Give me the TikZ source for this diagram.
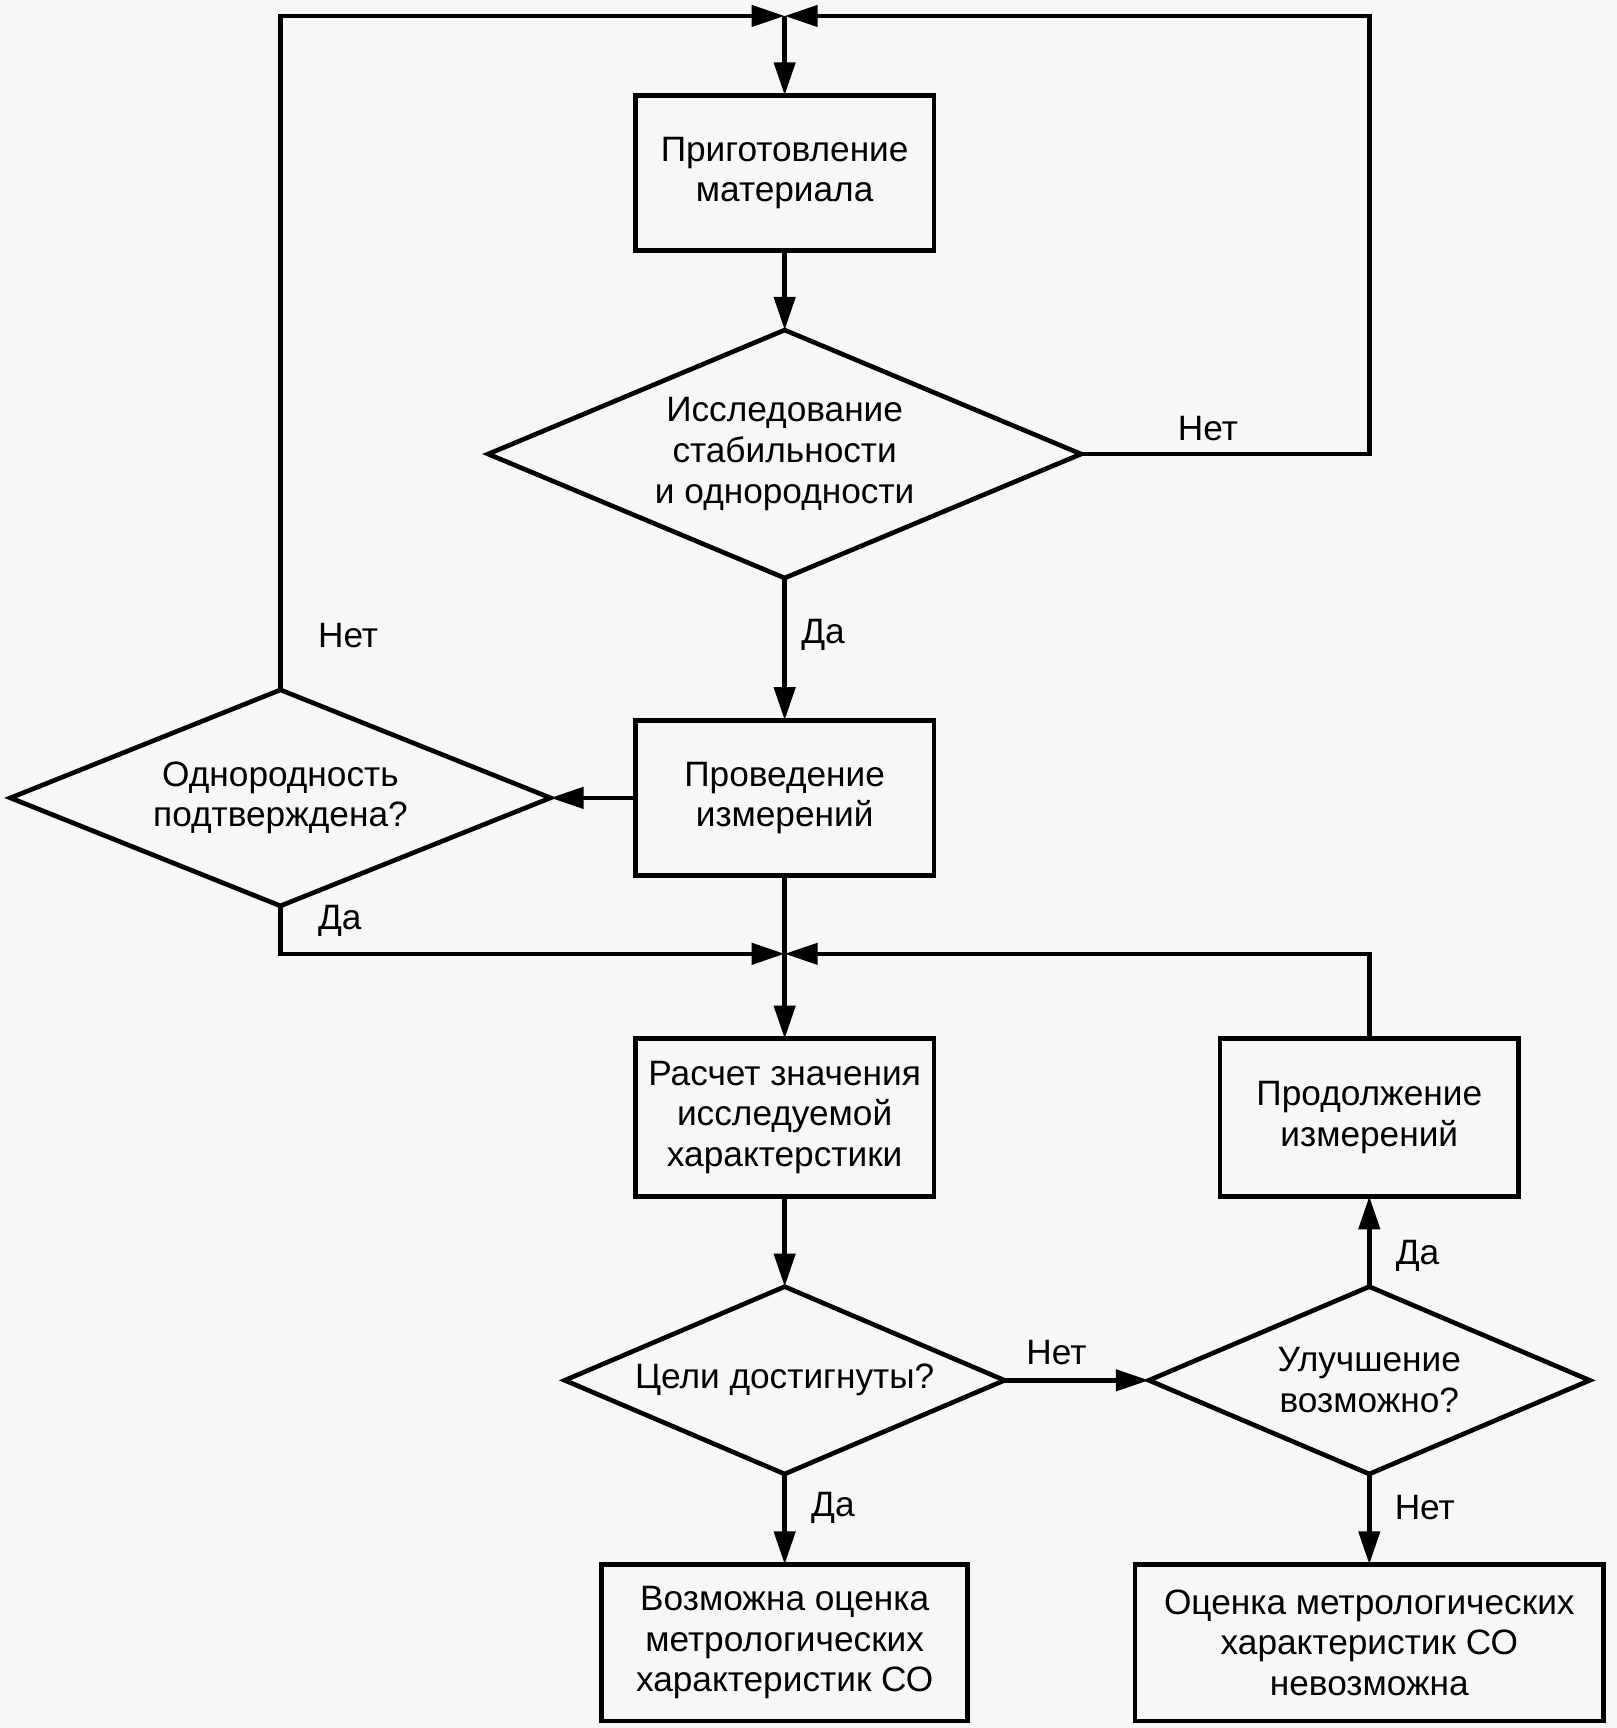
\documentclass[tikz,border=0pt]{standalone}
\usepackage{fontspec}
\setmainfont{Liberation Sans}
\usetikzlibrary{shapes.geometric, positioning, arrows.meta}
\definecolor{fcPaper}{RGB}{247,247,247}

\begin{document}
\begin{tikzpicture}[node distance=0.82cm,
  font=\fontsize{9.1}{10.5}\selectfont,
  proc/.style={draw, line width=1.2pt, outer sep=0pt, minimum width=2.71cm, minimum height=1.41cm, align=center, inner sep=1pt},
  cond/.style={draw, diamond, line width=1.2pt, outer sep=0pt, inner sep=0pt, align=center},
  arr/.style={line width=1.2pt, -{Triangle[length=0.30cm,width=0.19cm]}},
  lnk/.style={line width=1.2pt},
  lbl/.style={inner sep=0pt}]
  \fill[fcPaper] (0,0) rectangle (14.67,-15.68);
  \useasboundingbox (0,0) rectangle (14.67,-15.68);

  % main column
  \node[proc] (prep) at (7.12,-1.57) {Приготовление\\материала};
  \node[cond, aspect=2.391, minimum width=5.38cm, minimum height=2.25cm, below=0.72cm of prep] (stab) {Исследование\\стабильности\\и однородности};
  \node[proc, below=1.29cm of stab] (meas) {Проведение\\измерений};
  \node[cond, aspect=2.5, minimum width=4.90cm, minimum height=1.96cm, left=0.77cm of meas] (homog) {Однородность\\подтверждена?};
  \node[proc, minimum height=1.43cm, below=1.48cm of meas] (calc) {Расчет значения\\исследуемой\\характерстики};
  \node[cond, aspect=2.347, minimum width=3.99cm, minimum height=1.70cm, below=of calc] (goal) {Цели достигнуты?};
  \node[proc, minimum width=3.32cm, minimum height=1.42cm, below=of goal] (okres) {Возможна оценка\\метрологических\\характеристик СО};

  % right column
  \node[cond, aspect=2.353, minimum width=4.00cm, minimum height=1.70cm, right=1.31cm of goal] (impr) {Улучшение\\возможно?};
  \node[proc, minimum height=1.43cm, above=of impr] (cont) {Продолжение\\измерений};
  \node[proc, minimum width=4.25cm, minimum height=1.42cm, below=of impr] (nores) {Оценка метрологических\\характеристик СО\\невозможна};

  % junctions
  \coordinate[above=0.72cm of prep] (top);
  \coordinate[below=0.71cm of meas] (mid);

  \draw[arr] (top) -- (prep);
  \draw[arr] (prep) -- (stab);
  \draw[arr] (stab) -- node[lbl, pos=0.4, right=0.13cm] {Да} (meas);
  \draw[arr] (stab.east) -| node[lbl, pos=0.22, above=0.1cm] {Нет} (cont.center |- top) -- (top);
  \draw[arr] (meas) -- (homog);
  \draw[arr] (homog.north) |- node[lbl, pos=0.04, right=0.32cm] {Нет} (top);
  \draw[arr] (homog.south) |- node[lbl, pos=0.16, right=0.32cm] {Да} (mid);
  \draw[lnk] (meas) -- (mid);
  \draw[arr] (mid) -- (calc);
  \draw[arr] (cont.north) |- (mid);
  \draw[arr] (calc) -- (goal);
  \draw[arr] (goal) -- node[lbl, pos=0.37, right=0.22cm] {Да} (okres);
  \draw[arr] (goal) -- node[lbl, pos=0.36, above=0.12cm] {Нет} (impr);
  \draw[arr] (impr) -- node[lbl, pos=0.34, right=0.22cm] {Да} (cont);
  \draw[arr] (impr) -- node[lbl, pos=0.37, right=0.21cm] {Нет} (nores);
\end{tikzpicture}
\end{document}
